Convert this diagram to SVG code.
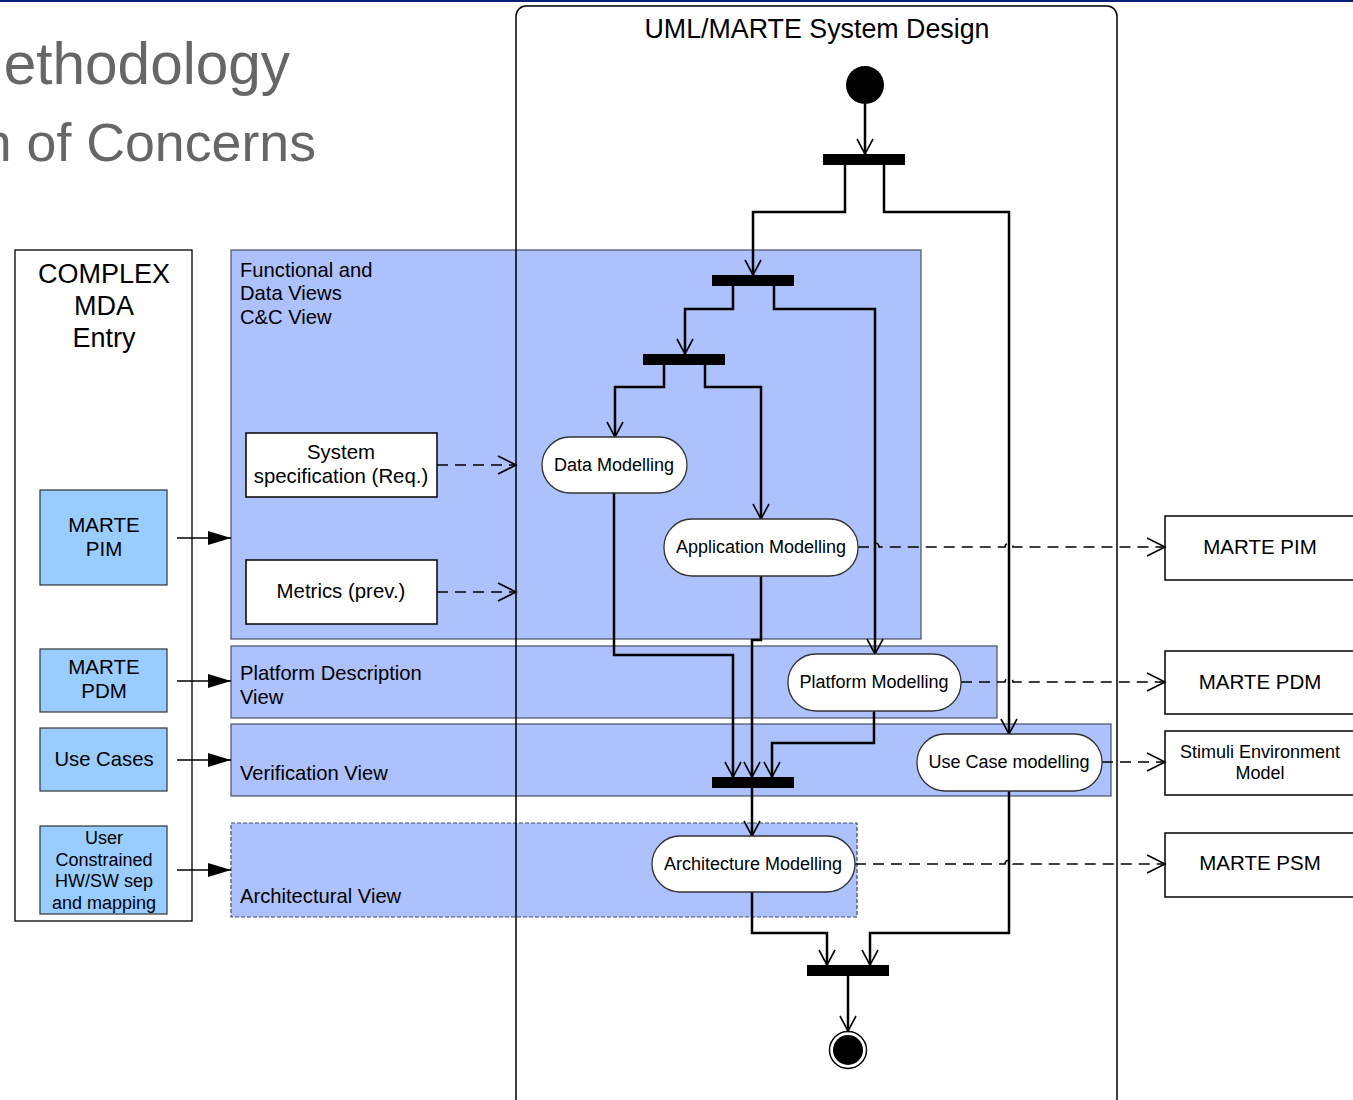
<svg xmlns="http://www.w3.org/2000/svg" width="1353" height="1100" viewBox="0 0 1353 1100">
  <style>
    text { font-family: "Liberation Sans", Arial, sans-serif; fill: #000; }
    .heading { fill: #666666; }
    .panel { fill: #adc1fd; stroke: #4a4f66; stroke-width: 1.2; }
    .entry { fill: #99ccff; stroke: #333; stroke-width: 1.2; }
    .box { fill: #fff; stroke: #000; stroke-width: 1.5; }
    .pill { fill: #fff; stroke: #333; stroke-width: 1.3; }
    .bar { fill: #000; }
    .flow { fill: none; stroke: #000; stroke-width: 2.5; marker-end: url(#openHead); }
    .dep { fill: none; stroke: #000; stroke-width: 1.6; stroke-dasharray: 11 7; marker-end: url(#openThin); }
    .feed { fill: none; stroke: #000; stroke-width: 1.5; marker-end: url(#solidHead); }
    .lbl { font-size: 20.2px; }
    .act { font-size: 18px; text-anchor: middle; }
    .mid { text-anchor: middle; }
  </style>
  <defs>
    <marker id="openHead" markerUnits="userSpaceOnUse" markerWidth="20" markerHeight="20" refX="16" refY="9" orient="auto">
      <path d="M1,1 L16,9 L1,17" fill="none" stroke="#000" stroke-width="1.6"/>
    </marker>
    <marker id="openThin" markerUnits="userSpaceOnUse" markerWidth="22" markerHeight="22" refX="19" refY="10" orient="auto">
      <path d="M1,1 L19,10 L1,19" fill="none" stroke="#000" stroke-width="1.6"/>
    </marker>
    <marker id="solidHead" markerUnits="userSpaceOnUse" markerWidth="24" markerHeight="16" refX="23" refY="7" orient="auto">
      <path d="M0,0 L23,7 L0,14 z" fill="#000"/>
    </marker>
  </defs>

  <!-- page rule and slide heading -->
  <rect x="0" y="0" width="1353" height="2" fill="#0a1f7a"/>
  <text class="heading" x="290" y="84" font-size="58.5" text-anchor="end">ethodology</text>
  <text class="heading" x="316" y="161" font-size="53.7" text-anchor="end">n of Concerns</text>

  <!-- view panels -->
  <g id="functional-view">
    <rect class="panel" x="231" y="250" width="690" height="389"/>
    <text class="lbl" x="240" y="277">Functional and</text>
    <text class="lbl" x="240" y="300">Data Views</text>
    <text class="lbl" x="240" y="324">C&amp;C View</text>
  </g>
  <g id="platform-view">
    <rect class="panel" x="231" y="646" width="766" height="72"/>
    <text class="lbl" x="240" y="680">Platform Description</text>
    <text class="lbl" x="240" y="704">View</text>
  </g>
  <g id="verification-view">
    <rect class="panel" x="231" y="724" width="880" height="72"/>
    <text class="lbl" x="240" y="780">Verification View</text>
  </g>
  <g id="architectural-view">
    <rect class="panel" x="231" y="823" width="626" height="94" stroke-dasharray="4 2"/>
    <text class="lbl" x="240" y="903">Architectural View</text>
  </g>

  <!-- COMPLEX MDA entry column -->
  <g id="mda-entry">
    <rect x="15" y="250" width="177" height="671" fill="#fff" stroke="#000" stroke-width="1.3"/>
    <text class="mid" x="104" y="283" font-size="27">COMPLEX</text>
    <text class="mid" x="104" y="315" font-size="27">MDA</text>
    <text class="mid" x="104" y="347" font-size="27">Entry</text>
  </g>
  <g id="entry-pim">
    <rect class="entry" x="40" y="490" width="127" height="95"/>
    <text class="mid" x="104" y="532" font-size="20.5">MARTE</text>
    <text class="mid" x="104" y="556" font-size="20.5">PIM</text>
  </g>
  <g id="entry-pdm">
    <rect class="entry" x="40" y="649" width="127" height="63"/>
    <text class="mid" x="104" y="674" font-size="20.5">MARTE</text>
    <text class="mid" x="104" y="698" font-size="20.5">PDM</text>
  </g>
  <g id="entry-usecases">
    <rect class="entry" x="40" y="728" width="127" height="63"/>
    <text class="mid" x="104" y="766" font-size="20.3">Use Cases</text>
  </g>
  <g id="entry-mapping">
    <rect class="entry" x="40" y="826" width="127" height="88"/>
    <text class="mid" x="104" y="844" font-size="18">User</text>
    <text class="mid" x="104" y="866" font-size="18">Constrained</text>
    <text class="mid" x="104" y="887" font-size="18">HW/SW sep</text>
    <text class="mid" x="104" y="909" font-size="18">and mapping</text>
  </g>

  <!-- inputs inside the functional view -->
  <g id="sys-spec">
    <rect class="box" x="246" y="433" width="191" height="64"/>
    <text class="mid" x="341" y="459" font-size="20.4">System</text>
    <text class="mid" x="341" y="483" font-size="20.4">specification (Req.)</text>
  </g>
  <g id="metrics">
    <rect class="box" x="246" y="560" width="191" height="64"/>
    <text class="mid" x="341" y="598" font-size="20.4">Metrics (prev.)</text>
  </g>

  <!-- UML/MARTE system design frame -->
  <g id="system-design">
    <rect x="516" y="6" width="601" height="1110" rx="10" fill="none" stroke="#000" stroke-width="1.5"/>
    <text class="mid" x="817" y="38" font-size="26.8">UML/MARTE System Design</text>
  </g>

  <!-- output artefacts -->
  <g id="out-pim">
    <rect class="box" x="1165" y="516" width="200" height="64"/>
    <text class="mid" x="1260" y="554" font-size="20.5">MARTE PIM</text>
  </g>
  <g id="out-pdm">
    <rect class="box" x="1165" y="651" width="200" height="63"/>
    <text class="mid" x="1260" y="689" font-size="20.5">MARTE PDM</text>
  </g>
  <g id="out-stimuli">
    <rect class="box" x="1165" y="731" width="200" height="64"/>
    <text class="mid" x="1260" y="758" font-size="18">Stimuli Environment</text>
    <text class="mid" x="1260" y="779" font-size="18">Model</text>
  </g>
  <g id="out-psm">
    <rect class="box" x="1165" y="833" width="200" height="64"/>
    <text class="mid" x="1260" y="870" font-size="20.5">MARTE PSM</text>
  </g>

  <!-- control nodes -->
  <g id="initial"><circle cx="865" cy="85" r="19" fill="#000"/></g>
  <g id="fork-1"><rect class="bar" x="823" y="154" width="82" height="11"/></g>
  <g id="fork-2"><rect class="bar" x="712" y="275" width="82" height="11"/></g>
  <g id="fork-3"><rect class="bar" x="643" y="354" width="82" height="11"/></g>
  <g id="join-1"><rect class="bar" x="712" y="777" width="82" height="11"/></g>
  <g id="join-2"><rect class="bar" x="807" y="965" width="82" height="11"/></g>
  <g id="final">
    <circle cx="848" cy="1050" r="18.5" fill="#fff" stroke="#000" stroke-width="1.5"/>
    <circle cx="848" cy="1050" r="15" fill="#000"/>
  </g>

  <!-- connectors -->
  <g id="connectors">
    <!-- entry feeds -->
    <path class="feed" d="M177,538 H231"/>
    <path class="feed" d="M177,681 H231"/>
    <path class="feed" d="M177,760 H231"/>
    <path class="feed" d="M177,870 H231"/>
    <!-- control flow -->
    <path class="flow" d="M865,104 V154"/>
    <path class="flow" d="M845,165 V212 H753 V275"/>
    <path class="flow" d="M884,165 V212 H1009 V734"/>
    <path class="flow" d="M733,286 V309 H685 V354"/>
    <path class="flow" d="M774,286 V309 H875 V654"/>
    <path class="flow" d="M664,365 V387 H615 V437"/>
    <path class="flow" d="M705,365 V387 H761 V519"/>
    <path class="flow" d="M614,493 V655 H733 V777"/>
    <path class="flow" d="M761,576 V640 H752 V777"/>
    <path class="flow" d="M874,711 V743 H772 V777"/>
    <path class="flow" d="M752,788 V836"/>
    <path class="flow" d="M752,892 V933 H827 V965"/>
    <path class="flow" d="M1009,791 V933 H870 V965"/>
    <path class="flow" d="M848,976 V1031"/>
    <!-- dependencies -->
    <path class="dep" d="M437,465 H516"/>
    <path class="dep" d="M437,592 H516"/>
    <path class="dep" d="M858,547 H871 A4,4 0 0 1 879,547 H1005 A4,4 0 0 1 1013,547 H1165"/>
    <path class="dep" d="M961,682 H1005 A4,4 0 0 1 1013,682 H1165"/>
    <path class="dep" d="M1102,762 H1165"/>
    <path class="dep" d="M855,864 H1005 A4,4 0 0 1 1013,864 H1165"/>
  </g>

  <!-- activities -->
  <g id="data-modelling">
    <rect class="pill" x="542" y="437" width="145" height="56" rx="28"/>
    <text class="act" x="614" y="471">Data Modelling</text>
  </g>
  <g id="application-modelling">
    <rect class="pill" x="664" y="519" width="194" height="57" rx="28"/>
    <text class="act" x="761" y="553">Application Modelling</text>
  </g>
  <g id="platform-modelling">
    <rect class="pill" x="788" y="654" width="173" height="57" rx="28"/>
    <text class="act" x="874" y="688">Platform Modelling</text>
  </g>
  <g id="usecase-modelling">
    <rect class="pill" x="917" y="734" width="185" height="57" rx="28"/>
    <text class="act" x="1009" y="768">Use Case modelling</text>
  </g>
  <g id="architecture-modelling">
    <rect class="pill" x="652" y="836" width="203" height="56" rx="28"/>
    <text class="act" x="753" y="870">Architecture Modelling</text>
  </g>
</svg>
